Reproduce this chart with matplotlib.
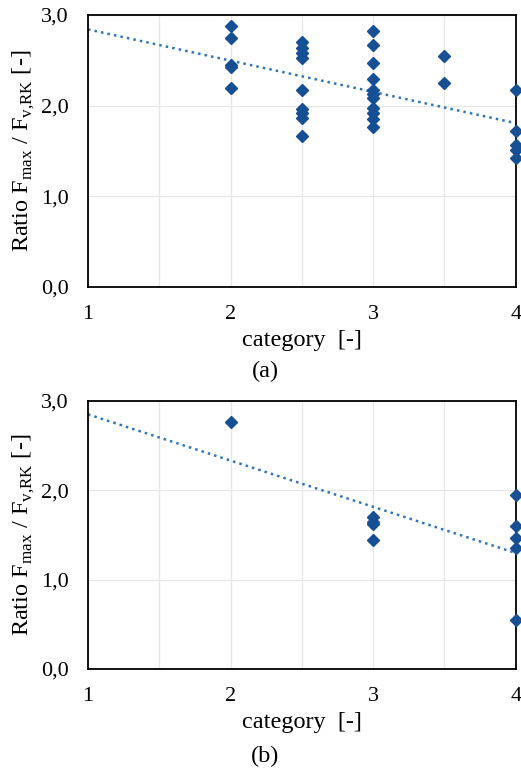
import numpy as np
import matplotlib.pyplot as plt

plt.rcParams['font.family'] = 'Liberation Serif'
plt.rcParams['mathtext.fontset'] = 'custom'
plt.rcParams['mathtext.rm'] = 'Liberation Serif'

# (a) all tests
cat_a = [2, 2, 2, 2, 2,
         2.5, 2.5, 2.5, 2.5, 2.5, 2.5, 2.5, 2.5, 2.5,
         3, 3, 3, 3, 3, 3, 3, 3, 3, 3, 3,
         3.5, 3.5,
         4, 4, 4, 4, 4]
ratio_a = [2.88, 2.75, 2.45, 2.43, 2.19,
           2.70, 2.64, 2.58, 2.53, 2.17, 1.96, 1.92, 1.86, 1.67,
           2.82, 2.67, 2.47, 2.29, 2.17, 2.13, 2.09, 1.97, 1.92, 1.85, 1.77,
           2.55, 2.25,
           2.17, 1.72, 1.57, 1.51, 1.42]

# (b) subset
cat_b = [2, 3, 3, 3, 3, 4, 4, 4, 4, 4]
ratio_b = [2.76, 1.70, 1.65, 1.62, 1.44, 1.95, 1.60, 1.47, 1.35, 0.55]

yticks = [0.0, 1.0, 2.0, 3.0]
ytick_labels = ['0,0', '1,0', '2,0', '3,0']
xticks = [1, 2, 3, 4]

fig = plt.figure(figsize=(5.21, 7.73), dpi=100)
ax_a = fig.add_axes([0.169, 0.6287, 0.821, 0.3519])
ax_b = fig.add_axes([0.169, 0.1345, 0.821, 0.3467])


def draw(ax, x, y, tag, tag_y):
    x = np.array(x)
    y = np.array(y)
    k, d = np.polyfit(x, y, 1)
    xs = np.array([1, 4])
    ax.plot(xs, k * xs + d, ':', color='#2E75B6', lw=1.8, zorder=2)
    ax.plot(x, y, 'D', color='#174F94', ms=6.2, mec='#174F94', zorder=3,
            clip_on=False)
    ax.set_xlim(1, 4)
    ax.set_ylim(0, 3)
    ax.set_xticks(xticks)
    ax.set_xticks([1.5, 2.5, 3.5], minor=True)
    ax.set_yticks(yticks)
    ax.set_yticklabels(ytick_labels)
    ax.grid(True, which='major', color='#E6E6E6', lw=0.9)
    ax.grid(True, which='minor', axis='x', color='#E6E6E6', lw=0.9)
    ax.set_axisbelow(True)
    ax.tick_params(which='both', length=0, labelsize=16)
    ax.tick_params(axis='x', pad=13)
    ax.tick_params(axis='y', pad=14)
    for s in ax.spines.values():
        s.set_linewidth(1.3)
    ax.set_xlabel('category  [-]', fontsize=17.5, labelpad=4)
    ax.set_ylabel(r'Ratio F$_{\mathrm{max}}$ / F$_{\mathrm{v{,}RK}}$ [-]',
                  fontsize=17.5, labelpad=3)
    fig.text(0.509, tag_y, tag, fontsize=17.5, ha='center', va='center')


draw(ax_a, cat_a, ratio_a, '(a)', 0.519)
draw(ax_b, cat_b, ratio_b, '(b)', 0.021)

fig.savefig('out.png', dpi=100)
